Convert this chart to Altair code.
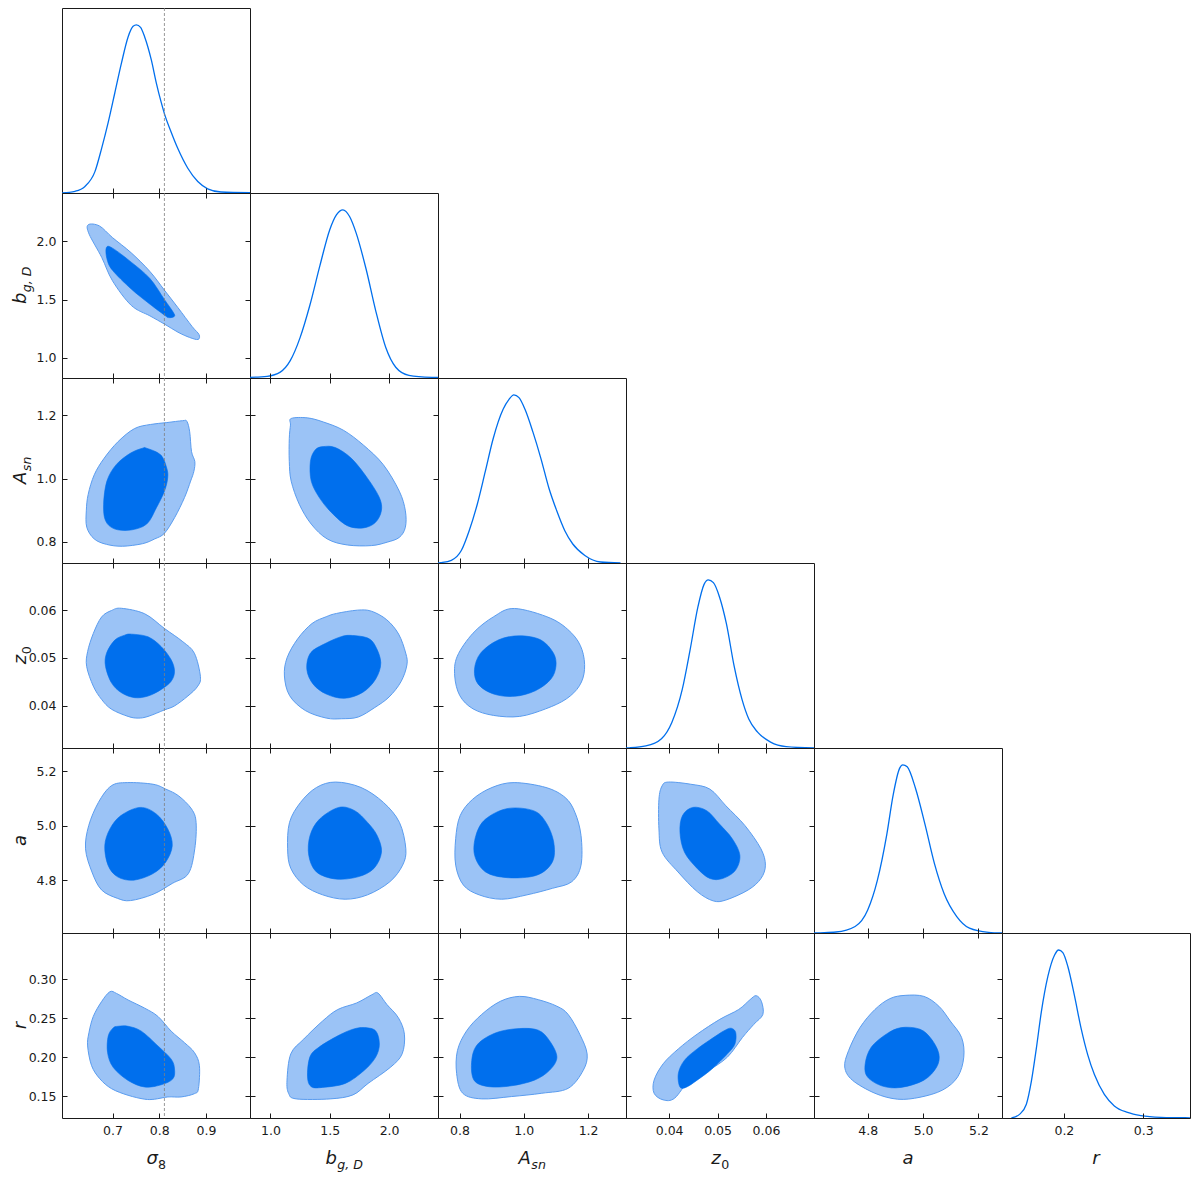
import altair as alt
import pandas as pd

# ---------------- parameters, axis ranges and ticks ----------------
PARAMS = ["s8", "b", "A", "z0", "a", "r"]
DOMAINS = {
    "s8": [0.592, 0.994],
    "b": [0.828, 2.412],
    "A": [0.733, 1.318],
    "z0": [0.0311, 0.0699],
    "a": [4.606, 5.285],
    "r": [0.122, 0.359],
}
TICKS = {
    "s8": [0.7, 0.8, 0.9],
    "b": [1.0, 1.5, 2.0],
    "A": [0.8, 1.0, 1.2],
    "z0": [0.04, 0.05, 0.06],
    "a": [4.8, 5.0, 5.2],
    "r": [0.15, 0.20, 0.25, 0.30],
}
R_X_TICKS = [0.2, 0.3]
FORMATS = {"s8": ".1f", "b": ".1f", "A": ".1f", "z0": ".2f", "a": ".1f", "r": ".2f"}
SIGMA8_FIDUCIAL = [0.811]

# axis titles: (main symbol, subscript, subscript italic)
TITLES = {
    "s8": ("σ", "8", False),
    "b": ("b", "g, D", True),
    "A": ("A", "sn", True),
    "z0": ("z", "0", False),
    "a": ("a", "", False),
    "r": ("r", "", False),
}

# ---------------- 1D marginal posteriors (normalised to peak 1) ----------------
PDF_S8 = [(0.5922, 0.0), (0.6199, 0.010), (0.6411, 0.039), (0.6624, 0.127), (0.6766, 0.264),
          (0.6908, 0.420), (0.7050, 0.596), (0.7191, 0.772), (0.7333, 0.928), (0.7440, 0.991),
          (0.7511, 1.000), (0.7600, 0.985), (0.7688, 0.928), (0.7830, 0.791), (0.7936, 0.655),
          (0.8043, 0.537), (0.8113, 0.469), (0.8255, 0.361), (0.8397, 0.264), (0.8610, 0.147),
          (0.8823, 0.068), (0.9035, 0.025), (0.9319, 0.006), (0.9943, 0.002)]
PDF_B = [(0.829, 0.004), (0.972, 0.010), (1.083, 0.035), (1.167, 0.103), (1.250, 0.240),
         (1.333, 0.434), (1.417, 0.668), (1.500, 0.882), (1.556, 0.970), (1.611, 1.000),
         (1.667, 0.960), (1.722, 0.863), (1.806, 0.648), (1.889, 0.395), (1.972, 0.181),
         (2.056, 0.064), (2.167, 0.016), (2.361, 0.004), (2.412, 0.003)]
PDF_A = [(0.733, 0.0), (0.741, 0.002), (0.7745, 0.016), (0.8055, 0.074), (0.830, 0.192),
         (0.855, 0.348), (0.880, 0.543), (0.9046, 0.739), (0.9356, 0.914), (0.954, 0.973),
         (0.969, 1.000), (0.985, 0.983), (1.0037, 0.914), (1.0285, 0.778), (1.0533, 0.621),
         (1.078, 0.446), (1.1028, 0.309), (1.1276, 0.192), (1.1524, 0.113), (1.190, 0.045),
         (1.239, 0.006), (1.301, 0.0)]
PDF_Z0 = [(0.0311, 0.0), (0.03177, 0.001), (0.0352, 0.012), (0.03842, 0.055), (0.04056, 0.152),
          (0.04271, 0.348), (0.04432, 0.582), (0.04592, 0.836), (0.04721, 0.973), (0.04807, 1.000),
          (0.04914, 0.983), (0.05043, 0.895), (0.05182, 0.739), (0.05343, 0.485), (0.05504, 0.289),
          (0.05644, 0.172), (0.05826, 0.094), (0.06094, 0.035), (0.06416, 0.008), (0.0699, 0.0)]
PDF_AA = [(4.606, 0.0), (4.617, 0.001), (4.6856, 0.006), (4.7545, 0.039), (4.800, 0.137),
          (4.8348, 0.313), (4.869, 0.587), (4.892, 0.822), (4.915, 0.979), (4.9266, 1.000),
          (4.9426, 0.988), (4.9725, 0.861), (5.0069, 0.646), (5.0413, 0.411), (5.0757, 0.235),
          (5.1216, 0.098), (5.1675, 0.029), (5.2363, 0.004), (5.285, 0.0)]
PDF_R = [(0.1339, 0.0), (0.1444, 0.023), (0.1527, 0.082), (0.1590, 0.218), (0.1653, 0.414),
         (0.1715, 0.628), (0.1799, 0.843), (0.1883, 0.969), (0.1933, 0.999), (0.1987, 0.983),
         (0.2050, 0.901), (0.2134, 0.726), (0.2218, 0.531), (0.2301, 0.375), (0.2385, 0.258),
         (0.2510, 0.140), (0.2636, 0.072), (0.2803, 0.033), (0.2971, 0.014), (0.3222, 0.004),
         (0.3473, 0.002), (0.3590, 0.001)]

# ---------------- 2D contours (outer = 95%, inner = 68%) ----------------
S8_B_OUT = [(0.648, 2.140), (0.672, 2.130), (0.700, 2.030), (0.740, 1.900), (0.780, 1.740),
            (0.811, 1.580), (0.840, 1.430), (0.870, 1.270), (0.885, 1.200), (0.883, 1.158),
            (0.865, 1.175), (0.840, 1.220), (0.811, 1.290), (0.780, 1.360), (0.740, 1.450),
            (0.700, 1.660), (0.677, 1.860), (0.650, 2.060)]
S8_B_IN = [(0.687, 1.945), (0.700, 1.940), (0.740, 1.820), (0.780, 1.680), (0.811, 1.500),
           (0.830, 1.390), (0.832, 1.355), (0.820, 1.345), (0.811, 1.367), (0.780, 1.460),
           (0.740, 1.590), (0.700, 1.750), (0.688, 1.850)]

S8_A_OUT = [(0.859, 1.181), (0.865, 1.148), (0.869, 1.085), (0.876, 1.054), (0.874, 1.023),
            (0.867, 0.992), (0.854, 0.940), (0.833, 0.877), (0.811, 0.827), (0.790, 0.809),
            (0.764, 0.794), (0.721, 0.786), (0.687, 0.792), (0.661, 0.809), (0.645, 0.846),
            (0.644, 0.898), (0.648, 0.950), (0.661, 1.012), (0.682, 1.064), (0.712, 1.117),
            (0.747, 1.158), (0.781, 1.171), (0.816, 1.177), (0.850, 1.183)]
S8_A_IN = [(0.773, 1.096), (0.803, 1.075), (0.816, 1.033), (0.818, 1.002), (0.811, 0.960),
           (0.794, 0.908), (0.773, 0.856), (0.738, 0.837), (0.704, 0.841), (0.685, 0.867),
           (0.681, 0.919), (0.688, 0.992), (0.708, 1.044), (0.738, 1.080), (0.764, 1.096)]

B_A_OUT = [(1.175, 1.190), (1.310, 1.192), (1.445, 1.179), (1.614, 1.153), (1.783, 1.106),
           (1.951, 1.044), (2.086, 0.960), (2.137, 0.898), (2.137, 0.846), (2.086, 0.814),
           (1.985, 0.799), (1.850, 0.788), (1.648, 0.790), (1.479, 0.809), (1.344, 0.856),
           (1.243, 0.919), (1.175, 0.992), (1.159, 1.054), (1.159, 1.127), (1.169, 1.169)]
B_A_IN = [(1.445, 1.101), (1.547, 1.098), (1.682, 1.064), (1.816, 1.002), (1.918, 0.940),
          (1.935, 0.898), (1.884, 0.861), (1.783, 0.844), (1.648, 0.851), (1.513, 0.893),
          (1.412, 0.940), (1.344, 0.992), (1.337, 1.054), (1.378, 1.091)]

S8_Z_OUT = [(0.7191, 0.0604), (0.7688, 0.05925), (0.8113, 0.05615), (0.8504, 0.05339),
            (0.8751, 0.05097), (0.8879, 0.04614), (0.8823, 0.04407), (0.8611, 0.0420),
            (0.8326, 0.03993), (0.8113, 0.0391), (0.7760, 0.03772), (0.7547, 0.03737),
            (0.7334, 0.03772), (0.6979, 0.03923), (0.6766, 0.0413), (0.6589, 0.04408),
            (0.6447, 0.04822), (0.6468, 0.05132), (0.6589, 0.05511), (0.6766, 0.05857),
            (0.6979, 0.05994)]
S8_Z_IN = [(0.7404, 0.05498), (0.7760, 0.05442), (0.8043, 0.05235), (0.8255, 0.04959),
           (0.8326, 0.04718), (0.8255, 0.04511), (0.8043, 0.04338), (0.7760, 0.0420),
           (0.7474, 0.04166), (0.7191, 0.04269), (0.6979, 0.04476), (0.6851, 0.04821),
           (0.6872, 0.05097), (0.7049, 0.05373), (0.7262, 0.05477)]

B_Z_OUT = [(1.470, 0.05863), (1.557, 0.05932), (1.733, 0.06001), (1.850, 0.05980),
           (1.980, 0.05800), (2.080, 0.05500), (2.140, 0.05100), (2.150, 0.04850),
           (2.100, 0.04500), (2.000, 0.04180), (1.880, 0.03960), (1.740, 0.03760),
           (1.601, 0.03724), (1.470, 0.03738), (1.294, 0.03896), (1.162, 0.04207),
           (1.118, 0.04621), (1.140, 0.05000), (1.230, 0.05400), (1.350, 0.05720)]
B_Z_IN = [(1.689, 0.0547), (1.821, 0.05415), (1.886, 0.05242), (1.930, 0.04897),
          (1.886, 0.04552), (1.777, 0.04276), (1.623, 0.04152), (1.470, 0.04242),
          (1.360, 0.04449), (1.307, 0.04759), (1.338, 0.05104), (1.470, 0.05311),
          (1.601, 0.05449)]

A_Z_OUT = [(0.971, 0.06036), (1.084, 0.05829), (1.149, 0.05518), (1.181, 0.05173),
           (1.189, 0.04759), (1.173, 0.04414), (1.132, 0.04138), (1.068, 0.03931),
           (0.987, 0.03772), (0.906, 0.03793), (0.842, 0.03931), (0.801, 0.04207),
           (0.785, 0.04621), (0.793, 0.05035), (0.842, 0.05518), (0.906, 0.05863)]
A_Z_IN = [(0.987, 0.05463), (1.052, 0.0538), (1.092, 0.05104), (1.100, 0.04828),
          (1.084, 0.04552), (1.036, 0.04311), (0.971, 0.04193), (0.906, 0.04242),
          (0.858, 0.04449), (0.8465, 0.04759), (0.866, 0.05104), (0.922, 0.0538)]

S8_AA_OUT = [(0.7316, 5.158), (0.7866, 5.152), (0.8141, 5.134), (0.8416, 5.109), (0.8691, 5.061),
             (0.8787, 5.012), (0.8759, 4.915), (0.8622, 4.824), (0.8278, 4.788), (0.7866, 4.748),
             (0.7385, 4.725), (0.7110, 4.733), (0.6766, 4.764), (0.6560, 4.830), (0.6423, 4.915),
             (0.6491, 5.000), (0.6698, 5.085), (0.6973, 5.146)]
S8_AA_IN = [(0.7591, 5.067), (0.7935, 5.043), (0.8182, 4.988), (0.8278, 4.927), (0.8141, 4.867),
            (0.7866, 4.824), (0.7454, 4.800), (0.7110, 4.812), (0.6904, 4.855), (0.6835, 4.927),
            (0.6945, 4.988), (0.7179, 5.037)]

B_AA_OUT = [(1.549, 5.160), (1.764, 5.140), (1.953, 5.085), (2.087, 5.012), (2.141, 4.915),
            (2.114, 4.855), (2.006, 4.794), (1.818, 4.746), (1.630, 4.730), (1.441, 4.746),
            (1.280, 4.782), (1.172, 4.843), (1.145, 4.915), (1.161, 5.012), (1.253, 5.085),
            (1.388, 5.140)]
B_AA_IN = [(1.576, 5.067), (1.710, 5.055), (1.818, 5.012), (1.899, 4.964), (1.936, 4.903),
           (1.872, 4.843), (1.737, 4.812), (1.549, 4.804), (1.388, 4.830), (1.323, 4.891),
           (1.334, 4.964), (1.414, 5.024)]

A_AA_OUT = [(0.970, 5.158), (1.069, 5.140), (1.129, 5.103), (1.159, 5.049), (1.178, 4.964),
            (1.178, 4.855), (1.149, 4.794), (1.089, 4.770), (1.010, 4.746), (0.931, 4.730),
            (0.861, 4.746), (0.812, 4.782), (0.788, 4.855), (0.788, 4.952), (0.802, 5.037),
            (0.841, 5.097), (0.901, 5.140)]
A_AA_IN = [(0.950, 5.063), (1.030, 5.055), (1.069, 5.012), (1.093, 4.940), (1.089, 4.867),
           (1.040, 4.818), (0.950, 4.809), (0.881, 4.830), (0.847, 4.891), (0.851, 4.964),
           (0.881, 5.024)]

Z_AA_OUT = [(0.03987, 5.160), (0.04447, 5.152), (0.04842, 5.134), (0.05171, 5.073),
            (0.05566, 5.000), (0.05895, 4.915), (0.05987, 4.855), (0.05895, 4.806),
            (0.05632, 4.764), (0.05171, 4.727), (0.04908, 4.724), (0.04579, 4.758),
            (0.04184, 4.830), (0.03855, 4.903), (0.03790, 4.988), (0.03790, 5.097),
            (0.03855, 5.146)]
Z_AA_IN = [(0.04487, 5.067), (0.04776, 5.055), (0.05039, 5.006), (0.05303, 4.952),
           (0.05460, 4.891), (0.05368, 4.836), (0.05105, 4.806), (0.04842, 4.806),
           (0.04579, 4.843), (0.04316, 4.903), (0.04224, 4.976), (0.04276, 5.037)]

S8_R_OUT = [(0.6943, 0.2837), (0.7085, 0.2816), (0.7333, 0.2732), (0.7688, 0.2627),
            (0.7972, 0.2521), (0.8255, 0.2332), (0.8539, 0.2185), (0.8752, 0.2058),
            (0.8858, 0.1890), (0.8837, 0.1596), (0.8752, 0.1532), (0.8468, 0.1490),
            (0.8184, 0.1490), (0.7901, 0.1461), (0.7688, 0.1461), (0.7333, 0.1511),
            (0.6979, 0.1596), (0.6730, 0.1722), (0.6553, 0.1890), (0.6468, 0.2143),
            (0.6496, 0.2311), (0.6589, 0.2521), (0.6766, 0.2711)]
S8_R_IN = [(0.7121, 0.2395), (0.7333, 0.2395), (0.7617, 0.2332), (0.7972, 0.2143),
           (0.8255, 0.1974), (0.8326, 0.1848), (0.8291, 0.1722), (0.8043, 0.1646),
           (0.7688, 0.1617), (0.7333, 0.1701), (0.7014, 0.1869), (0.6894, 0.2058),
           (0.6908, 0.2269), (0.7014, 0.2374)]

B_R_OUT = [(1.906, 0.2820), (1.982, 0.2673), (2.078, 0.2505), (2.129, 0.2294), (2.110, 0.2042),
           (2.014, 0.1873), (1.823, 0.1663), (1.695, 0.1516), (1.504, 0.1465), (1.217, 0.1465),
           (1.153, 0.1537), (1.140, 0.1705), (1.172, 0.2042), (1.281, 0.2231), (1.440, 0.2463),
           (1.568, 0.2610), (1.727, 0.2694), (1.855, 0.2799)]
B_R_IN = [(1.791, 0.2378), (1.887, 0.2336), (1.918, 0.2168), (1.887, 0.2000), (1.791, 0.1831),
          (1.631, 0.1663), (1.440, 0.1612), (1.344, 0.1621), (1.3125, 0.1747), (1.332, 0.2000),
          (1.408, 0.2126), (1.568, 0.2273), (1.695, 0.2357)]

A_R_OUT = [(0.986, 0.2778), (1.045, 0.2736), (1.103, 0.2652), (1.138, 0.2547), (1.174, 0.2294),
           (1.197, 0.2042), (1.185, 0.1831), (1.138, 0.1600), (1.056, 0.1537), (0.962, 0.1495),
           (0.869, 0.1465), (0.810, 0.1537), (0.791, 0.1789), (0.7935, 0.2084), (0.822, 0.2336),
           (0.869, 0.2547), (0.927, 0.2715)]
A_R_IN = [(0.986, 0.2366), (1.045, 0.2345), (1.080, 0.2210), (1.103, 0.2000), (1.080, 0.1831),
          (1.033, 0.1705), (0.962, 0.1633), (0.892, 0.1621), (0.845, 0.1705), (0.838, 0.1957),
          (0.857, 0.2168), (0.9155, 0.2315)]

Z_R_OUT = [(0.05795, 0.2787), (0.05904, 0.2715), (0.05935, 0.2547), (0.05748, 0.2420),
           (0.05514, 0.2252), (0.05203, 0.2000), (0.04813, 0.1831), (0.04423, 0.1705),
           (0.04112, 0.1473), (0.03878, 0.1452), (0.03690, 0.1537), (0.03690, 0.1705),
           (0.03878, 0.1915), (0.04190, 0.2105), (0.04579, 0.2294), (0.05047, 0.2484),
           (0.05436, 0.2610), (0.05670, 0.2736)]
Z_R_IN = [(0.05281, 0.2370), (0.05374, 0.2315), (0.05358, 0.2168), (0.05203, 0.2042),
          (0.04891, 0.1852), (0.04579, 0.1705), (0.04345, 0.1612), (0.04221, 0.1621),
          (0.04190, 0.1789), (0.04314, 0.1957), (0.04579, 0.2105), (0.04969, 0.2273),
          (0.05156, 0.2345)]

AA_R_OUT = [(4.935, 0.2791), (5.003, 0.2778), (5.057, 0.2652), (5.098, 0.2463), (5.139, 0.2252),
            (5.147, 0.2000), (5.125, 0.1747), (5.071, 0.1579), (4.989, 0.1486), (4.908, 0.1461),
            (4.826, 0.1537), (4.7445, 0.1705), (4.717, 0.1873), (4.731, 0.2084), (4.772, 0.2378),
            (4.826, 0.2610), (4.880, 0.2749)]
AA_R_IN = [(4.921, 0.2378), (4.989, 0.2357), (5.030, 0.2231), (5.057, 0.2042), (5.049, 0.1873),
           (5.003, 0.1705), (4.921, 0.1612), (4.853, 0.1629), (4.799, 0.1747), (4.791, 0.1915),
           (4.8125, 0.2126), (4.867, 0.2294)]

PDFS = {"s8": PDF_S8, "b": PDF_B, "A": PDF_A, "z0": PDF_Z0, "a": PDF_AA, "r": PDF_R}
CONTOURS = {
    (1, 0): (S8_B_OUT, S8_B_IN),
    (2, 0): (S8_A_OUT, S8_A_IN), (2, 1): (B_A_OUT, B_A_IN),
    (3, 0): (S8_Z_OUT, S8_Z_IN), (3, 1): (B_Z_OUT, B_Z_IN), (3, 2): (A_Z_OUT, A_Z_IN),
    (4, 0): (S8_AA_OUT, S8_AA_IN), (4, 1): (B_AA_OUT, B_AA_IN), (4, 2): (A_AA_OUT, A_AA_IN),
    (4, 3): (Z_AA_OUT, Z_AA_IN),
    (5, 0): (S8_R_OUT, S8_R_IN), (5, 1): (B_R_OUT, B_R_IN), (5, 2): (A_R_OUT, A_R_IN),
    (5, 3): (Z_R_OUT, Z_R_IN), (5, 4): (AA_R_OUT, AA_R_IN),
}

# ---------------- styling ----------------
FONT = "DejaVu Sans"
W, H = 188, 185
BLUE = "#006FED"
LIGHT = "#9BC3F6"
EDGE = "#5A9CEF"
INK = "#1a1a1a"
TFS, SFS = 18, 12.6
MAIN_W = {"s8": 11.2, "b": 11.4, "A": 12.3, "z0": 9.5, "a": 11.0, "r": 7.4}
SUB_W = {"s8": 8.0, "b": 25.7, "A": 14.6, "z0": 8.0, "a": 0.0, "r": 0.0}
ONE = pd.DataFrame({"k": [0]})


def frame(points):
    return pd.DataFrame({"x": [p[0] for p in points],
                         "y": [p[1] for p in points],
                         "i": list(range(len(points)))})


def scale(p):
    return alt.Scale(domain=DOMAINS[p], nice=False, zero=False)


def axis(orient, values, fmt, labels):
    return alt.Axis(orient=orient, values=values, format=fmt, labels=labels, title=None,
                    domain=False, grid=False, ticks=True, tickSize=5, tickWidth=1,
                    tickColor=INK, offset=-5, labelPadding=6, labelFlush=False,
                    labelOverlap=False, labelFont=FONT, labelFontSize=12.5,
                    labelColor=INK, zindex=1)


def ref_rule():
    return alt.Chart(pd.DataFrame({"x": SIGMA8_FIDUCIAL})).mark_rule(
        color="#808080", strokeDash=[3, 2], strokeWidth=0.8
    ).encode(x=alt.X("x:Q", scale=scale("s8"), axis=None))


def title_layers(p, where):
    main, sub, sub_italic = TITLES[p]
    wm, ws = MAIN_W[p], SUB_W[p]
    total = wm + ws
    if where == "x":
        pos = dict(x=alt.value(W / 2), y=alt.value(H + 46))
        ang = 0
    else:
        pos = dict(x=alt.value(-36), y=alt.value(H / 2))
        ang = 270
    out = [alt.Chart(ONE).mark_text(
        text=main, font=FONT, fontSize=TFS, fontStyle="italic", align="left",
        baseline="alphabetic", angle=ang, dx=-total / 2, color=INK).encode(**pos)]
    if sub:
        out.append(alt.Chart(ONE).mark_text(
            text=sub, font=FONT, fontSize=SFS,
            fontStyle="italic" if sub_italic else "normal", align="left",
            baseline="alphabetic", angle=ang, dx=-total / 2 + wm + 0.5, dy=4.5,
            color=INK).encode(**pos))
    return out


def panel2d(i, j):
    px, py = PARAMS[j], PARAMS[i]
    outer, inner = CONTOURS[(i, j)]
    xt, fx = TICKS[px], FORMATS[px]
    yt, fy = TICKS[py], FORMATS[py]
    out_layer = alt.Chart(frame(outer)).mark_line(
        interpolate="cardinal-closed", fill=LIGHT, stroke=EDGE, strokeWidth=1, clip=True
    ).encode(
        x=alt.X("x:Q", scale=scale(px), axis=axis("bottom", xt, fx, i == 5)),
        y=alt.Y("y:Q", scale=scale(py), axis=axis("left", yt, fy, j == 0)),
        order=alt.Order("i:Q"),
    )
    in_layer = alt.Chart(frame(inner)).mark_line(
        interpolate="cardinal-closed", fill=BLUE, stroke=BLUE, strokeWidth=0.6, clip=True
    ).encode(
        x=alt.X("x:Q", scale=scale(px), axis=axis("top", xt, fx, False)),
        y=alt.Y("y:Q", scale=scale(py), axis=axis("right", yt, fy, False)),
        order=alt.Order("i:Q"),
    )
    layers = [out_layer, in_layer]
    if j == 0:
        layers.append(ref_rule())
        layers += title_layers(py, "y")
    if i == 5:
        layers += title_layers(px, "x")
    return alt.layer(*layers).resolve_axis(x="independent", y="independent").properties(
        width=W, height=H)


def panel1d(i):
    p = PARAMS[i]
    xt = R_X_TICKS if p == "r" else TICKS[p]
    fx = ".1f" if p == "r" else FORMATS[p]
    line = alt.Chart(frame(PDFS[p])).mark_line(
        interpolate="monotone", color=BLUE, strokeWidth=1.3, clip=True
    ).encode(
        x=alt.X("x:Q", scale=scale(p), axis=axis("bottom", xt, fx, i == 5)),
        y=alt.Y("y:Q", scale=alt.Scale(domain=[0, 1.1], nice=False, zero=False), axis=None),
        order=alt.Order("i:Q"),
    )
    layers = [line]
    if i == 0:
        layers.append(ref_rule())
    if i == 5:
        layers += title_layers(p, "x")
    return alt.layer(*layers).resolve_axis(x="independent", y="independent").properties(
        width=W, height=H)


def blank():
    return alt.Chart(ONE).mark_point(opacity=0, size=0, strokeWidth=0).encode(
        x=alt.value(W / 2), y=alt.value(H / 2)
    ).properties(width=W, height=H, view=alt.ViewBackground(strokeOpacity=0))


cells = []
for i in range(6):
    for j in range(6):
        if j < i:
            cells.append(panel2d(i, j))
        elif j == i:
            cells.append(panel1d(i))
        else:
            cells.append(blank())

chart = alt.concat(*cells, columns=6, spacing=0, bounds="flush").properties(
    padding={"left": 3, "top": -1, "right": 0, "bottom": 0}
).configure_view(stroke=INK, strokeWidth=1)

chart.save("out.html", embed_options={"renderer": "svg", "actions": False})
